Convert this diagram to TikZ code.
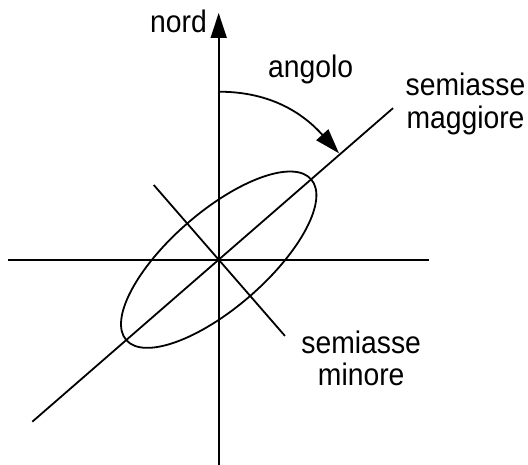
\documentclass[tikz,border=0pt]{standalone}
\usepackage{fontspec}
\setmainfont{Liberation Sans}
\usetikzlibrary{arrows.meta,calc}
\begin{document}
\begin{tikzpicture}[x=1pt,y=1pt,
  axis/.style={line width=1.8pt},
  bigtip/.style={-{Triangle[length=25pt,width=16pt]}},
  lbl/.style={inner sep=0pt,yscale=1.1,transform shape,font=\fontsize{28.3}{29.6}\selectfont}]
\useasboundingbox (0,0) rectangle (528,465);
\coordinate (C) at (218.7,205.3);
\coordinate (N) at (218.7,452);
\coordinate (S) at (218.7,0);
\coordinate (W) at (8,205.3);
\coordinate (E) at (428.7,205.3);
\coordinate (MA1) at ($(C)+(221:247)$);
\coordinate (MA2) at ($(C)+(41:231)$);
\coordinate (MI1) at ($(C)+(131:99)$);
\coordinate (MI2) at ($(C)+(-49:101)$);
\coordinate (A0) at (218.7,373.3);
\coordinate (A1) at (339,311.7);
\draw[axis,bigtip] (S) -- (N);
\draw[axis] (W) -- (E);
\draw[axis] (MA1) -- (MA2);
\draw[axis] (MI1) -- (MI2);
\draw[axis,rotate around={41:(C)}] (C) ellipse[x radius=122.5,y radius=48];
\draw[axis,bigtip] (A0) to[out=0,in=132] (A1);
\node[lbl,anchor=base east] (nord) at (207,432) {nord};
\node[lbl,anchor=base west] (ang) at (268,387.7) {angolo};
\node[lbl,anchor=base,align=center] (maj) at (465.5,336.7) {semiasse\\maggiore};
\node[lbl,anchor=base,align=center] (min) at (361.2,79) {semiasse\\minore};
\end{tikzpicture}
\end{document}
